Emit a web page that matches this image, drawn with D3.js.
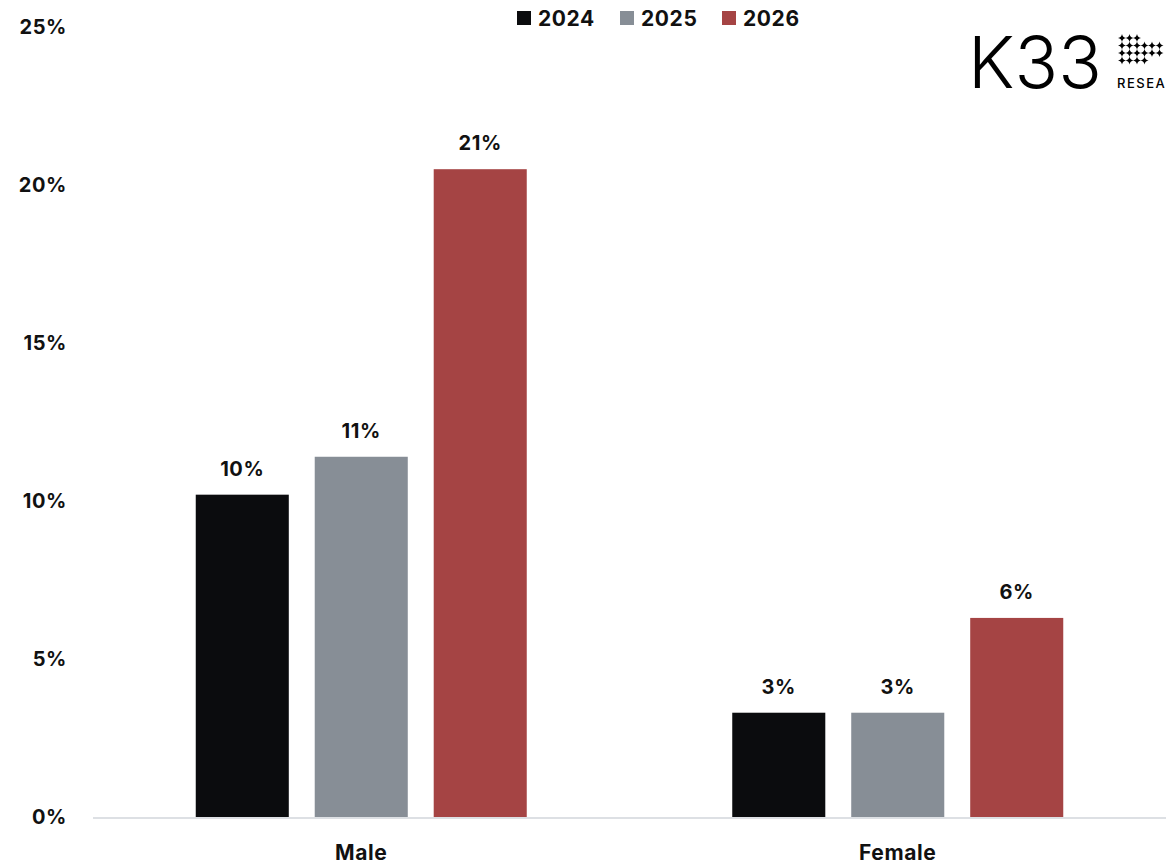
<!DOCTYPE html>
<html lang="en">
<head>
    <title>Gender share by year</title>
    <script src="https://d3js.org/d3.v7.min.js"></script>
    <style>
        body { margin: 0; background: #fff; }
        text { font-family: Inter, "Noto Sans", sans-serif; }
    </style>
</head>
<body>
    <svg width=1166 height=865></svg>
</body>
    <script>
    // data
    const categories = ["Male", "Female"]
    const years = ["2024", "2025", "2026"]
    const values2024 = [10.2, 3.3]
    const values2025 = [11.4, 3.3]
    const values2026 = [20.5, 6.3]
    const yTicks = [0, 5, 10, 15, 20, 25]
    const colors = ["#0b0c0e", "#878e96", "#a54444"]

    const series = [values2024, values2025, values2026]
    const rows = []
    categories.forEach((c, i) => {
      years.forEach((yr, j) => rows.push({cat: c, year: yr, value: series[j][i]}))
    })

    const svg = d3.select("svg")
    const baseY = 817

    const y = d3.scaleLinear().domain([0, 25]).range([baseY, 27])
    const x0 = d3.scaleBand().domain(categories).range([93, 1166])
    const groupW = 331
    const x1 = d3.scaleBand().domain(years).range([0, groupW]).paddingInner(0.218)
    const color = d3.scaleOrdinal().domain(years).range(colors)

    const bold = sel => sel
      .style("font-weight", 700)
      .style("letter-spacing", "0.6px")
      .attr("fill", "#111")

    // y tick labels
    svg.append("g")
      .selectAll("text")
      .data(yTicks)
      .join("text")
      .attr("x", 67)
      .attr("y", d => y(d))
      .attr("dy", "0.36em")
      .attr("text-anchor", "end")
      .style("font-size", "20px")
      .call(bold)
      .text(d => d + "%")

    // baseline
    svg.append("line")
      .attr("x1", 93).attr("x2", 1166)
      .attr("y1", baseY + 1).attr("y2", baseY + 1)
      .attr("stroke", "#dde0e4")
      .attr("stroke-width", 2)

    const gx = d => x0(d.cat) + (x0.bandwidth() - groupW) / 2 + x1(d.year)

    // bars
    svg.append("g")
      .selectAll("rect")
      .data(rows)
      .join("rect")
      .attr("x", gx)
      .attr("y", d => y(d.value))
      .attr("width", x1.bandwidth())
      .attr("height", d => baseY - y(d.value))
      .attr("fill", d => color(d.year))

    // value labels
    svg.append("g")
      .selectAll("text")
      .data(rows)
      .join("text")
      .attr("x", d => gx(d) + x1.bandwidth() / 2)
      .attr("y", d => y(d.value) - 19)
      .attr("text-anchor", "middle")
      .style("font-size", "20px")
      .call(bold)
      .text(d => Math.round(d.value) + "%")

    // category labels
    svg.append("g")
      .selectAll("text")
      .data(categories)
      .join("text")
      .attr("x", d => x0(d) + x0.bandwidth() / 2)
      .attr("y", 860)
      .attr("text-anchor", "middle")
      .style("font-size", "21px")
      .call(bold)
      .text(d => d)

    // legend
    const legX = [517, 620, 722]
    const leg = svg.append("g")
      .selectAll("g")
      .data(years)
      .join("g")
      .attr("transform", (d, i) => `translate(${legX[i]},11)`)
    leg.append("rect")
      .attr("width", 14).attr("height", 14)
      .attr("fill", d => color(d))
    leg.append("text")
      .attr("x", 21).attr("y", 14.5)
      .style("font-size", "21px")
      .call(bold)
      .text(d => d)

    // logo (clipped at the right edge, as in the original)
    const logo = svg.append("g")
    logo.append("text")
      .attr("x", 968).attr("y", 88)
      .style("font-size", "72px")
      .style("font-weight", 300)
      .attr("fill", "#000")
      .text("K33")
    logo.append("text")
      .attr("x", 1117).attr("y", 88)
      .style("font-size", "13px")
      .style("font-weight", 500)
      .style("letter-spacing", "1.5px")
      .attr("fill", "#000")
      .text("RESEA")
    const starCols = [[0,1,2],[0,1,2,3,4,5],[0,1,2,3,4,5],[0,1,2,3]]
    const star = "M0,-4 Q0.6,-0.6 4,0 Q0.6,0.6 0,4 Q-0.6,0.6 -4,0 Q-0.6,-0.6 0,-4 Z"
    starCols.forEach((cols, r) => {
      cols.forEach(c => {
        logo.append("path")
          .attr("d", star)
          .attr("transform", `translate(${1122 + c * 7.5},${38 + r * 7.5})`)
          .attr("fill", "#000")
      })
    })
    </script>
</html>
